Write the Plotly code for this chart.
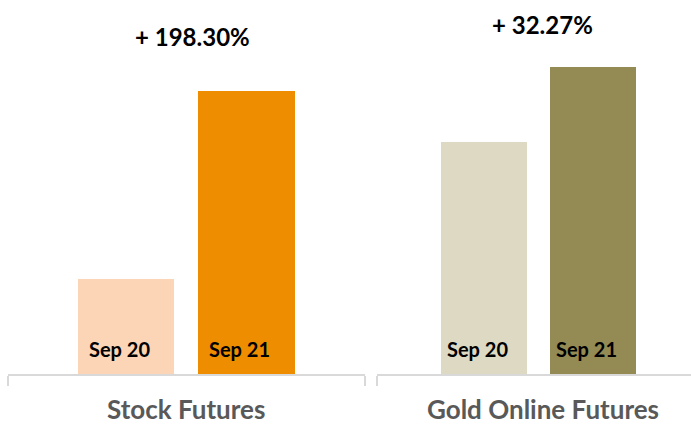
import plotly.graph_objects as go

# ---- data ----
periods = ["Sep 20", "Sep 21"]
groups = ["Stock Futures", "Gold Online Futures"]
stock_values = [100.0, 298.30]     # indexed, Sep 20 = 100
gold_values = [100.0, 132.27]      # indexed, Sep 20 = 100
changes = ["+ 198.30%", "+ 32.27%"]

stock_colors = ["#FBD5B5", "#EF8D00"]
gold_colors = ["#DDD9C3", "#948A54"]

W, H = 691, 424
FONT = "Lato, 'Open Sans', sans-serif"
LINE = "#D9D9D9"

xs = list(range(len(periods)))

fig = go.Figure()
fig.add_trace(go.Bar(x=xs, y=stock_values, marker=dict(color=stock_colors, line=dict(width=0)),
                     width=0.797, xaxis="x", yaxis="y", hoverinfo="skip", showlegend=False))
fig.add_trace(go.Bar(x=xs, y=gold_values, marker=dict(color=gold_colors, line=dict(width=0)),
                     width=0.789, xaxis="x2", yaxis="y2", hoverinfo="skip", showlegend=False))

ax_common = dict(showline=True, linecolor=LINE, linewidth=2, ticks="outside", ticklen=10,
                 tickcolor=LINE, tickwidth=2, showticklabels=False, showgrid=False,
                 zeroline=False, fixedrange=True)

x1_range = [-0.979, 1.983]
x2_range = [-0.982, 1.899]

annotations = []
for i, p in enumerate(periods):
    for xr, yr in (("x", "y"), ("x2", "y2")):
        annotations.append(dict(x=xs[i], y=0, xref=xr, yref=yr, text="<b>%s</b>" % p,
                                showarrow=False, xanchor="center", yanchor="middle",
                                yshift=25, xshift=-7,
                                font=dict(family=FONT, size=20, color="#000000")))

# change labels
annotations.append(dict(x=0.552, y=1 - 37 / 374, xref="x", yref="paper", text="<b>%s</b>" % changes[0],
                        showarrow=False, xanchor="center", yanchor="middle",
                        font=dict(family=FONT, size=24, color="#000000")))
annotations.append(dict(x=0.537, y=1 - 24.5 / 374, xref="x2", yref="paper", text="<b>%s</b>" % changes[1],
                        showarrow=False, xanchor="center", yanchor="middle",
                        font=dict(family=FONT, size=24, color="#000000")))

# group labels
annotations.append(dict(x=186 / W, y=0, xref="paper", yref="paper", text="<b>%s</b>" % groups[0],
                        showarrow=False, xanchor="center", yanchor="middle", yshift=-35,
                        font=dict(family=FONT, size=26, color="#595959")))
annotations.append(dict(x=543 / W, y=0, xref="paper", yref="paper", text="<b>%s</b>" % groups[1],
                        showarrow=False, xanchor="center", yanchor="middle", yshift=-35,
                        font=dict(family=FONT, size=26, color="#595959")))

fig.update_layout(
    width=W, height=H,
    margin=dict(l=0, r=0, t=0, b=50, pad=0),
    paper_bgcolor="white", plot_bgcolor="white",
    xaxis=dict(domain=[8 / W, 365 / W], range=x1_range, tickvals=[x1_range[0], x1_range[1]],
               anchor="y", **ax_common),
    xaxis2=dict(domain=[377 / W, 1], range=x2_range, tickvals=[x2_range[0]],
                anchor="y2", **ax_common),
    yaxis=dict(domain=[0, 1], range=[0, 393.7], visible=False, fixedrange=True, anchor="x"),
    yaxis2=dict(domain=[0, 1], range=[0, 161.2], visible=False, fixedrange=True, anchor="x2"),
    annotations=annotations,
    bargap=0,
)

fig.write_html("out.html", config={"displayModeBar": False},
               post_script="document.body.style.margin='0';document.body.style.overflow='hidden';")
